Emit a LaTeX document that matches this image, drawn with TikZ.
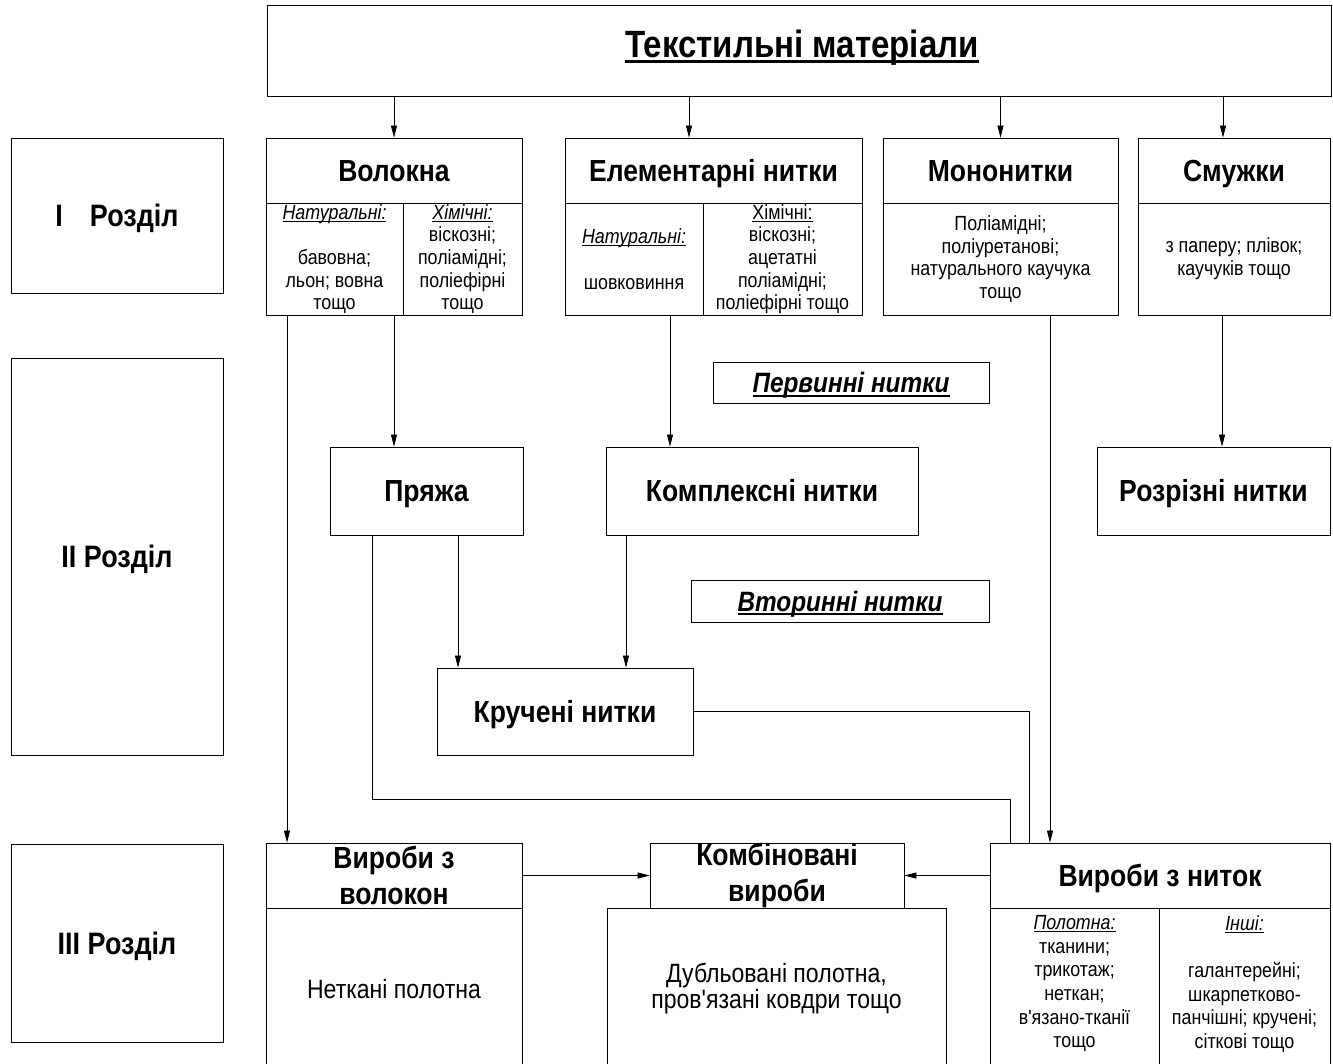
\documentclass[tikz,border=0pt]{standalone}
\usepackage{fontspec}
\setmainfont{Liberation Sans}[FakeStretch=0.87, Ligatures=TeXOff]
\usetikzlibrary{arrows.meta}

% underline with given depth and thickness
\newcommand{\ulr}[3]{\setbox0\hbox{#3}\rlap{\rule[-#1]{\wd0}{#2}}\box0}
\newcommand{\hd}{\fontsize{30.5}{36}\selectfont\bfseries}
\newcommand{\sm}{\fontsize{20.5}{22.7}\selectfont}

\begin{document}
\begin{tikzpicture}[x=1pt,y=-1pt,
  box/.style={draw, line width=0.8pt, inner sep=0pt, align=center},
  txt/.style={inner sep=0pt, align=center},
  arr/.style={line width=0.7pt, -{Triangle[width=6pt,length=12pt]}},
  link/.style={line width=0.7pt},
  head/.style={box, font=\hd, text height=21.8pt, text depth=0pt},
  head2/.style={box, font=\hd},
  small/.style={txt, font=\sm},
]
\useasboundingbox (0,0) rectangle (1333,1063);
\fill[white] (0,0) rectangle (1333,1063);

% title
\node[box, minimum width=1064pt, minimum height=91pt] (top) at (799,50.5) {};
\node[txt, font=\fontsize{38}{40}\selectfont\bfseries] (title) at (802,48) {\ulr{5pt}{2.5pt}{Текстильні матеріали}};

% section labels
\tikzset{sec/.style={box, font=\fontsize{31}{34}\selectfont\bfseries, minimum width=212pt, text height=22pt, text depth=0pt}}
\node[sec, minimum height=155pt] (sec1) at (117,215.5) {I\hspace{27pt}Розділ};
\node[sec, minimum height=397pt] (sec2) at (117,556.5) {II Розділ};
\node[sec, minimum height=198pt] (sec3) at (117,943) {III Розділ};

% section I: headers
\node[head, minimum width=256pt, minimum height=65pt] (volh) at (394,170.5) {Волокна};
\node[head, minimum width=297pt, minimum height=65pt] (elemh) at (713.5,170.5) {Елементарні нитки};
\node[head, minimum width=235pt, minimum height=65pt] (monoh) at (1000.5,170.5) {Мононитки};
\node[head, minimum width=192pt, minimum height=65pt] (smuh) at (1234,170.5) {Смужки};

% section I: bodies
\node[box, minimum width=137pt, minimum height=112pt] (volL) at (334.5,259) {};
\node[box, minimum width=119pt, minimum height=112pt] (volR) at (462.5,259) {};
\node[box, minimum width=138pt, minimum height=112pt] (elemL) at (634,259) {};
\node[box, minimum width=159pt, minimum height=112pt] (elemR) at (782.5,259) {};
\node[box, minimum width=235pt, minimum height=112pt] (monoB) at (1000.5,259) {};
\node[box, minimum width=192pt, minimum height=112pt] (smuB) at (1234,259) {};

\node[small, anchor=north] (volLt) at (334.5,204) {\ulr{2.5pt}{0.8pt}{\itshape Натуральні:}\\ ~\\ бавовна;\\ льон; вовна\\ тощо};
\node[small, anchor=north] (volRt) at (462.5,204) {\ulr{2.5pt}{0.8pt}{\itshape Хімічні:}\\ віскозні;\\ поліамідні;\\ поліефірні\\ тощо};
\node[small] (elemLt) at (634,259) {\ulr{2.5pt}{0.8pt}{\itshape Натуральні:}\\ ~\\ шовковиння};
\node[small, anchor=north] (elemRt) at (782.5,204) {\ulr{2.5pt}{0.8pt}{Хімічні:}\\ віскозні;\\ ацетатні\\ поліамідні;\\ поліефірні тощо};
\node[small] (monoBt) at (1000.5,259) {Поліамідні;\\ поліуретанові;\\ натурального каучука\\ тощо};
\node[small] (smuBt) at (1234,259) {з паперу; плівок;\\ каучуків тощо};

% section II
\tikzset{note/.style={box, font=\fontsize{28}{30}\selectfont\bfseries\itshape, text height=20pt, text depth=0pt}}
\node[note, minimum width=276pt, minimum height=41pt] (perv) at (851,382.5) {\ulr{4pt}{2pt}{Первинні нитки}};
\node[head, minimum width=193pt, minimum height=88pt] (pryazha) at (426.5,491) {Пряжа};
\node[head, minimum width=312pt, minimum height=88pt] (kompl) at (762,491) {Комплексні нитки};
\node[head, minimum width=233pt, minimum height=88pt] (rozriz) at (1213.5,491) {Розрізні нитки};
\node[note, minimum width=298pt, minimum height=42pt] (vtor) at (840,601) {\ulr{4pt}{2pt}{Вторинні нитки}};
\node[head, minimum width=256pt, minimum height=87pt] (kruch) at (565,711.5) {Кручені нитки};

% section III
\node[box, font=\fontsize{26.5}{29}\selectfont, minimum width=256pt, minimum height=162pt] (vvolB) at (394,989) {Неткані полотна};
\node[box, font=\fontsize{26.5}{26}\selectfont, minimum width=339pt, minimum height=162pt] (kombB) at (776.5,989) {Дубльовані полотна,\\ пров'язані ковдри тощо};
\node[head2, fill=white, minimum width=256pt, minimum height=65pt] (vvolh) at (394,875.5) {Вироби з\\ волокон};
\node[head2, fill=white, minimum width=254pt, minimum height=65pt] (kombh) at (777,875.5) {Комбіновані\\ вироби};
\node[head, minimum width=340pt, minimum height=65pt] (vnith) at (1160,875.5) {Вироби з ниток};
\node[box, minimum width=169pt, minimum height=162pt] (vnitL) at (1074.5,989) {};
\node[box, minimum width=171pt, minimum height=162pt] (vnitR) at (1244.5,989) {};
\node[txt, font=\fontsize{20.5}{23.7}\selectfont, anchor=north] (vnitLt) at (1074.5,915) {\ulr{2.5pt}{0.8pt}{\itshape Полотна:}\\ тканини;\\ трикотаж;\\ неткан;\\ в'язано-тканії\\ тощо};
\node[txt, font=\fontsize{20.5}{23.7}\selectfont, anchor=north] (vnitRt) at (1244.5,915) {\ulr{2.5pt}{0.8pt}{\itshape Інші:}\\ ~\\ галантерейні;\\ шкарпетково-\\ панчішні; кручені;\\ сіткові тощо};

% connectors
\draw[arr] (top.south -| volh.north) -- (volh.north);
\draw[arr] (top.south -| 689,0) -- (elemh.north -| 689,0);
\draw[arr] (top.south -| monoh.north) -- (monoh.north);
\draw[arr] (top.south -| 1223,0) -- (smuh.north -| 1223,0);

\draw[arr] (volL.south -| 394,0) -- (pryazha.north -| 394,0);
\draw[arr] (volL.south -| 287,0) -- (vvolh.north -| 287,0);
\draw[arr] (elemL.south -| 670,0) -- (kompl.north -| 670,0);
\draw[arr] (smuB.south -| 1222,0) -- (rozriz.north -| 1222,0);
\draw[arr] (monoB.south -| 1050,0) -- (vnith.north -| 1050,0);

\draw[arr] (pryazha.south -| 458,0) -- (kruch.north -| 458,0);
\draw[arr] (kompl.south -| 626,0) -- (kruch.north -| 626,0);

\coordinate (bend) at (1010,799);
\draw[link] (pryazha.south -| 372,0) |- (bend) -- (vnith.north -| bend);
\draw[link] (kruch.east) -| (vnith.north -| 1029,0);

\draw[arr] (vvolh.east) -- (kombh.west);
\draw[arr] (vnith.west) -- (kombh.east);
\end{tikzpicture}
\end{document}
